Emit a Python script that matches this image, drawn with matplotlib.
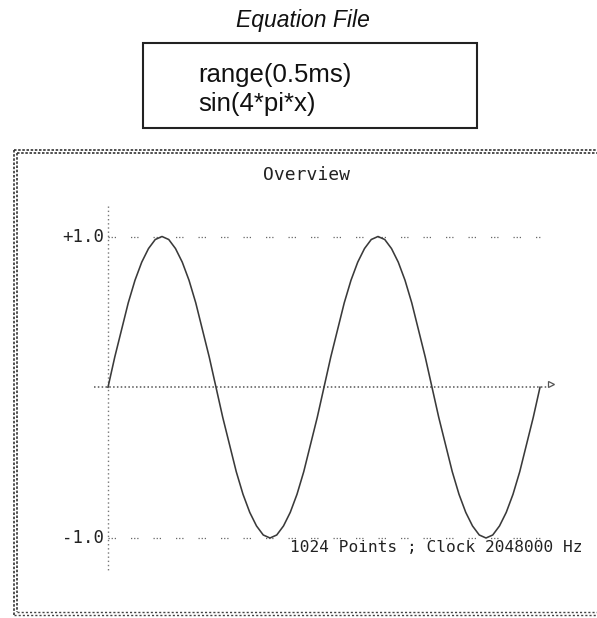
import numpy as np
import matplotlib.pyplot as plt
from matplotlib.patches import Rectangle
from matplotlib.lines import Line2D

W, H = 597, 618

# sample positions (points out of 1024) and the amplitude
points = list(range(0, 1025, 16))
amplitude = [0.0, 0.20, 0.38, 0.56, 0.71, 0.83, 0.92, 0.98, 1.0, 0.98, 0.92, 0.83, 0.71, 0.56, 0.38, 0.20,
             0.0, -0.20, -0.38, -0.56, -0.71, -0.83, -0.92, -0.98, -1.0, -0.98, -0.92, -0.83, -0.71, -0.56, -0.38, -0.20,
             0.0, 0.20, 0.38, 0.56, 0.71, 0.83, 0.92, 0.98, 1.0, 0.98, 0.92, 0.83, 0.71, 0.56, 0.38, 0.20,
             0.0, -0.20, -0.38, -0.56, -0.71, -0.83, -0.92, -0.98, -1.0, -0.98, -0.92, -0.83, -0.71, -0.56, -0.38, -0.20,
             0.0]
y_ticks = [1.0, -1.0]
y_tick_labels = ['+1.0', '-1.0']
equation_lines = ['range(0.5ms)', 'sin(4*pi*x)']
info_text = '1024 Points ; Clock 2048000 Hz'


def fx(px):
    return px / W


def fy(py):
    return 1 - py / H


fig = plt.figure(figsize=(W / 100, H / 100), dpi=100)
fig.patch.set_facecolor('white')

# pixel anchors of the plot: x=0 -> 108px, x=1024 -> 540px, y=+1 -> 236.5px, y=-1 -> 538px
x0_px, x1_px = 108, 540
yp_px, ym_px = 236.5, 538
sx = (x1_px - x0_px) / 1024
sy = (ym_px - yp_px) / 2
yz = (yp_px + ym_px) / 2

ax = fig.add_axes([0, 0, 1, 1])
ax.set_xlim(-x0_px / sx, (W - x0_px) / sx)
ax.set_ylim(-(H - yz) / sy, yz / sy)
ax.axis('off')

# title and equation box
fig.text(fx(303), fy(20), 'Equation File', ha='center', va='center',
         fontsize=16.5, style='italic', family='Liberation Sans', color='#111')
fig.patches.append(Rectangle((fx(143), fy(128)), fx(477) - fx(143), fy(43) - fy(128),
                             transform=fig.transFigure, fill=False, lw=1.5, ec='#222'))
for i, line in enumerate(equation_lines):
    fig.text(fx(198), fy(75 + 29 * i), line, ha='left', va='center',
             fontsize=18.5, family='Liberation Sans', color='#111')

# overview frame (double dotted border, runs off the right edge)
for off in (0, 3):
    fig.lines.append(Line2D([fx(14 + off), fx(W)], [fy(150 + off), fy(150 + off)], transform=fig.transFigure,
                            color='#333', lw=1.2, ls=(0, (1.5, 1))))
    fig.lines.append(Line2D([fx(14 + off), fx(14 + off)], [fy(150 + off), fy(615 - off)], transform=fig.transFigure,
                            color='#333', lw=1.2, ls=(0, (1.5, 1))))
    fig.lines.append(Line2D([fx(14 + off), fx(W)], [fy(615 - off), fy(615 - off)], transform=fig.transFigure,
                            color='#444', lw=1.0, ls=(0, (1.5, 1.5))))

fig.text(fx(306), fy(175), 'Overview', ha='center', va='center',
         fontsize=13, family='DejaVu Sans Mono', color='#222')

# axes lines
ax.plot([0, 0], [1.2, -1.22], color='#777', lw=1.0, ls=(0, (1, 2)))
ax.plot([-33, 1042], [0, 0], color='#555', lw=1.1, ls=(0, (1, 1.5)))
ax.plot([1050], [0.02], marker='>', ms=5, mfc='none', mec='#555', mew=0.9)
for v, lab in zip(y_ticks, y_tick_labels):
    ax.plot([0, 1024], [v, v], color='#666', lw=0.9, ls=(0, (1, 1.5, 1, 1.5, 1, 12)))
    ax.text(-10, v, lab, ha='right', va='center', fontsize=12.5,
            family='DejaVu Sans Mono', color='#222')

# waveform
ax.plot(points, amplitude, color='#3a3a3a', lw=1.15)

fig.text(fx(583), fy(548), info_text, ha='right', va='center',
         fontsize=11.6, family='DejaVu Sans Mono', color='#222')

fig.savefig('out.png', dpi=100, facecolor='white')
